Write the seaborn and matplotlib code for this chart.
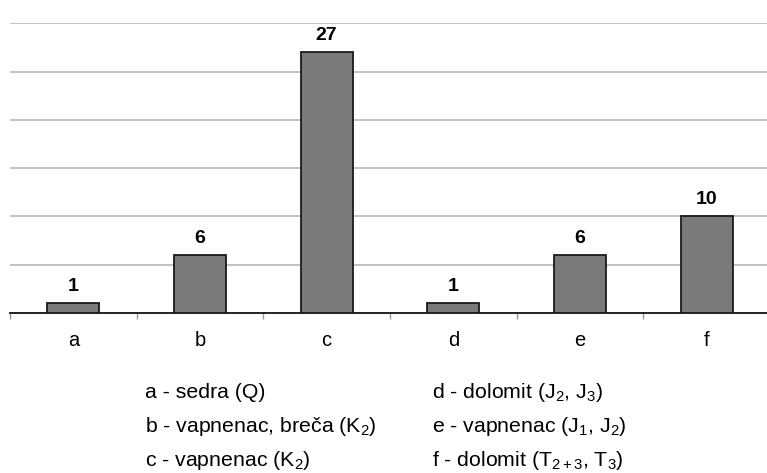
import matplotlib
matplotlib.use('Agg')
import matplotlib.pyplot as plt
import seaborn as sns
import pandas as pd

# data
categories = ['a', 'b', 'c', 'd', 'e', 'f']
counts = [1, 6, 27, 1, 6, 10]
legend_left = ['a - sedra (Q)', 'b - vapnenac, breča (K$_2$)', 'c - vapnenac (K$_2$)']
legend_right = ['d - dolomit (J$_2$, J$_3$)', 'e - vapnenac (J$_1$, J$_2$)', 'f - dolomit (T$_{2+3}$, T$_3$)']

df = pd.DataFrame({'cat': categories, 'n': counts})

sns.set_style('white')
plt.rcParams['font.family'] = ['Liberation Sans', 'DejaVu Sans']
plt.rcParams['mathtext.fontset'] = 'custom'
plt.rcParams['mathtext.rm'] = 'Liberation Sans'
plt.rcParams['mathtext.it'] = 'Liberation Sans'
plt.rcParams['text.color'] = 'black'
plt.rcParams['xtick.color'] = 'black'

fig = plt.figure(figsize=(7.67, 4.73), dpi=100)
ax = fig.add_axes([0.013, 0.338, 0.991, 0.613])

sns.barplot(data=df, x='cat', y='n', color='#7a7a7a', saturation=1, width=0.41,
            edgecolor='#1a1a1a', linewidth=1.3, ax=ax, zorder=3)

ax.set_ylim(0, 30)
ax.set_xlim(-0.5, 5.5)
ax.set_yticks(range(5, 31, 5))
ax.yaxis.grid(True, color='#bdbdbd', linewidth=1.3, zorder=0)
ax.set_yticklabels([])
ax.tick_params(axis='y', length=0)
for s in ['top', 'right', 'left']:
    ax.spines[s].set_visible(False)
ax.spines['bottom'].set_color('#111111')
ax.spines['bottom'].set_linewidth(1.3)

# category boundary ticks
ax.set_xticks([i - 0.5 for i in range(len(categories) + 1)], minor=True)
ax.tick_params(axis='x', which='minor', bottom=True, length=4, width=1, color='#999999', direction='out')
ax.tick_params(axis='x', which='major', length=0, labelsize=14.5, pad=13, labelcolor='black')
ax.set_xlabel('')
ax.set_ylabel('')

for i, v in enumerate(counts):
    ax.text(i, v + 0.85, str(v), ha='center', va='bottom', fontsize=14, fontweight='bold')

for j, t in enumerate(legend_left):
    fig.text(0.189, 0.158 - j * 0.0715, t, fontsize=15.3, va='baseline')
for j, t in enumerate(legend_right):
    fig.text(0.563, 0.158 - j * 0.0715, t, fontsize=15.3, va='baseline')

plt.savefig('out.png', dpi=100)
